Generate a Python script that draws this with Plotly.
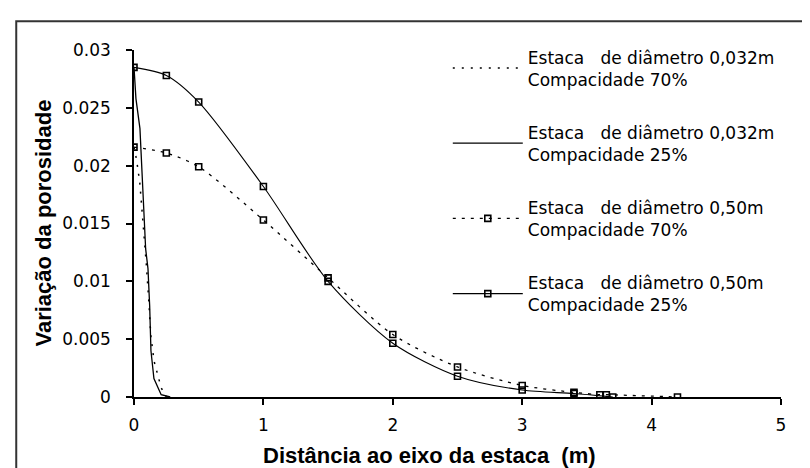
import plotly.graph_objects as go

# estaca 0,032m - compacidade 70% (pontilhado)
x_032_70 = [0.0, 0.02, 0.045, 0.07, 0.095, 0.115, 0.13, 0.155, 0.18, 0.21, 0.25]
y_032_70 = [0.0216, 0.0205, 0.0185, 0.0152, 0.0115, 0.0082, 0.0053, 0.0031, 0.0020, 0.0008, 0.0]

# estaca 0,032m - compacidade 25% (continuo)
x_032_25 = [0.0, 0.015, 0.046, 0.062, 0.077, 0.09, 0.108, 0.121, 0.131, 0.154, 0.21, 0.28]
y_032_25 = [0.0285, 0.0258, 0.0232, 0.0195, 0.016, 0.0128, 0.0111, 0.0079, 0.004, 0.0016, 0.0002, 0.0]

# estaca 0,50m - compacidade 70%
x_050_70 = [0.0, 0.25, 0.5, 1.0, 1.5, 2.0, 2.5, 3.0, 3.4, 3.6, 3.65, 4.2]
y_050_70 = [0.0216, 0.0211, 0.0199, 0.0153, 0.0103, 0.0054, 0.0026, 0.0010, 0.0004, 0.0002, 0.0002, 0.0]

# estaca 0,50m - compacidade 25%
x_050_25 = [0.0, 0.25, 0.5, 1.0, 1.5, 2.0, 2.5, 3.0, 3.4, 3.7]
y_050_25 = [0.0285, 0.0278, 0.0255, 0.0182, 0.0100, 0.00465, 0.0018, 0.0006, 0.0003, 0.0]

names = ['Estaca   de diâmetro 0,032m<br>Compacidade 70%',
         'Estaca   de diâmetro 0,032m<br>Compacidade 25%',
         'Estaca   de diâmetro 0,50m<br>Compacidade 70%',
         'Estaca   de diâmetro 0,50m<br>Compacidade 25%']

sq = dict(symbol='square-open', size=6, color='black', line=dict(width=1.6))

fig = go.Figure()
fig.add_trace(go.Scatter(x=x_032_70, y=y_032_70, mode='lines', name=names[0], legendgroup='a',
                         line=dict(color='black', width=1.5, dash='2px,7px')))
fig.add_trace(go.Scatter(x=x_032_25, y=y_032_25, mode='lines', name=names[1], legendgroup='b',
                         line=dict(color='black', width=1.3)))
fig.add_trace(go.Scatter(x=x_050_70, y=y_050_70, mode='lines+markers', name=names[2], legendgroup='c',
                         line=dict(color='black', width=1.3, dash='3px,6px', shape='spline', smoothing=0.8),
                         marker=sq))
fig.add_trace(go.Scatter(x=x_050_25, y=y_050_25, mode='lines+markers', name=names[3], legendgroup='d',
                         line=dict(color='black', width=1.1, shape='spline', smoothing=0.8),
                         marker=sq))

axis_font = dict(family='DejaVu Sans', size=17, color='black')
title_font = dict(family='Liberation Sans', size=22, color='black')

fig.update_xaxes(range=[0, 5], tickvals=[0, 1, 2, 3, 4, 5], showgrid=False, zeroline=False,
                 showline=True, linecolor='black', linewidth=1.5, ticks='outside', ticklen=6,
                 tickcolor='black', tickwidth=1.5, tickfont=axis_font, ticklabelstandoff=6)
fig.update_yaxes(range=[0, 0.03], tickvals=[0, 0.005, 0.01, 0.015, 0.02, 0.025, 0.03],
                 ticktext=['0', '0.005', '0.01', '0.015', '0.02', '0.025', '0.03'],
                 showgrid=False, zeroline=False,
                 showline=True, linecolor='black', linewidth=1.5, ticks='outside', ticklen=6,
                 tickcolor='black', tickwidth=1.5, tickfont=axis_font, ticklabelstandoff=12)

fig.update_layout(
    width=810, height=468,
    margin=dict(l=126, r=37, t=42, b=79),
    plot_bgcolor='white', paper_bgcolor='white',
    font=dict(family='DejaVu Sans', size=17, color='black'),
    legend=dict(x=0.485, y=0.215, xanchor='left', yanchor='bottom', bgcolor='rgba(0,0,0,0)',
                font=axis_font, tracegroupgap=28, itemwidth=70, valign='middle'),
    annotations=[
        dict(text='<b>Distância ao eixo da estaca  (m)</b>', xref='paper', yref='paper',
             x=0.456, y=-0.17, showarrow=False, font=title_font, xanchor='center', yanchor='middle'),
        dict(text='<b>Variação da porosidade</b>', xref='paper', yref='paper', textangle=-90,
             x=-0.1406, y=0.5, showarrow=False, font=title_font, xanchor='center', yanchor='middle'),
    ],
    shapes=[dict(type='rect', xref='paper', yref='paper', x0=-0.182, x1=1.3, y0=-0.5, y1=1.083,
                 line=dict(color='#333333', width=2), layer='below')],
)

fig.write_html("out.html")
